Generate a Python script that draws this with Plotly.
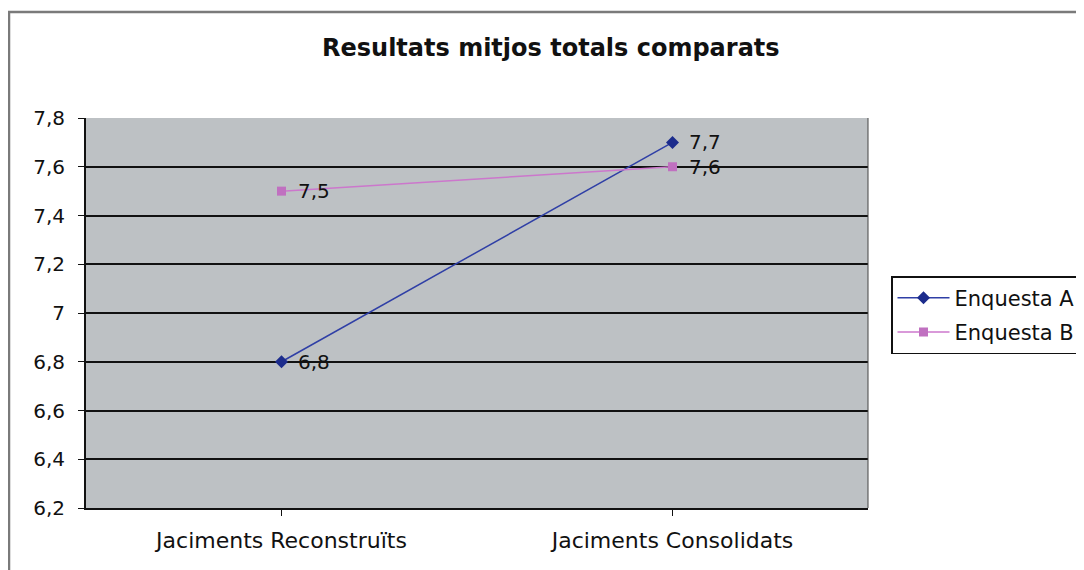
import plotly.graph_objects as go

categories = ["Jaciments Reconstruïts", "Jaciments Consolidats"]
enquesta_a = [6.8, 7.7]
enquesta_b = [7.5, 7.6]
series_names = ["Enquesta A", "Enquesta B"]
y_ticks = [6.2, 6.4, 6.6, 6.8, 7.0, 7.2, 7.4, 7.6, 7.8]
y_tick_labels = ["6,2", "6,4", "6,6", "6,8", "7", "7,2", "7,4", "7,6", "7,8"]
title_text = "Resultats mitjos totals comparats"


def fmt(v):
    return f"{v:.1f}".replace(".", ",")


OFF = 8  # page body margin
W, H = 1084 - OFF, 570 - OFF
pw, ph = 782, 390
L, T = 86 - OFF, 118 - OFF
R, B = W - L - pw, H - T - ph

FONT = "DejaVu Sans, Verdana, sans-serif"
x_idx = list(range(len(categories)))

fig = go.Figure()
fig.add_trace(go.Scatter(
    x=x_idx, y=enquesta_a, name=series_names[0], mode="lines+markers",
    legendgroup="a",
    line=dict(color="#2f3fa6", width=1.5),
    marker=dict(symbol="diamond", size=10, color="#1c2c8c"),
    cliponaxis=False,
))
fig.add_trace(go.Scatter(
    x=x_idx, y=enquesta_b, name=series_names[1], mode="lines+markers",
    legendgroup="b",
    line=dict(color="#cc77cc", width=1.5),
    marker=dict(symbol="square", size=9, color="#c070c0"),
    cliponaxis=False,
))


def px_x(x):
    return (x - OFF - L) / pw


def px_y(y):
    return (H - B - (y - OFF)) / ph


annotations = [
    dict(text="<b>" + title_text + "</b>", xref="paper", yref="paper",
         x=px_x(551), y=px_y(48), xanchor="center", yanchor="middle",
         showarrow=False, font=dict(family=FONT, size=24, color="#111111")),
]
for series in (enquesta_a, enquesta_b):
    for xi, v in zip(x_idx, series):
        annotations.append(dict(
            x=xi, y=v, xref="x", yref="y", text=fmt(v), showarrow=False,
            xanchor="left", yanchor="middle", xshift=14,
            font=dict(family=FONT, size=20, color="#111111"),
        ))

fig.update_layout(
    width=W, height=H,
    margin=dict(l=L, r=R, t=T, b=B, autoexpand=False),
    paper_bgcolor="white",
    plot_bgcolor="#bdc1c4",
    font=dict(family=FONT, size=20, color="#111111"),
    showlegend=True,
    legend=dict(
        x=px_x(891), y=px_y(276), xanchor="left", yanchor="top",
        bgcolor="white", bordercolor="#111111", borderwidth=1.5,
        font=dict(family=FONT, size=21, color="#111111"),
        tracegroupgap=4, itemwidth=52,
    ),
    xaxis=dict(
        range=[-0.5, 1.5], tickmode="array", tickvals=x_idx, ticktext=categories,
        showgrid=False, zeroline=False, showline=True, linecolor="#111111", linewidth=2,
        ticks="outside", ticklen=6, tickcolor="#111111", tickson="boundaries",
        tickfont=dict(family=FONT, size=22), ticklabelstandoff=6,
    ),
    yaxis=dict(
        range=[6.2, 7.8], tickmode="array", tickvals=y_ticks, ticktext=y_tick_labels,
        showgrid=True, gridcolor="#111111", gridwidth=1.5, zeroline=False,
        showline=True, linecolor="#111111", linewidth=2,
        ticks="outside", ticklen=6, tickcolor="#111111",
        tickfont=dict(family=FONT, size=20), ticklabelstandoff=9,
    ),
    shapes=[
        dict(type="rect", xref="paper", yref="paper",
             x0=px_x(9), x1=px_x(1100), y0=px_y(590), y1=px_y(12),
             line=dict(color="#7a7a7a", width=2.5), fillcolor="rgba(0,0,0,0)", layer="below"),
        dict(type="line", xref="paper", yref="paper",
             x0=1, x1=1, y0=0, y1=1, line=dict(color="#444444", width=1)),
    ],
    annotations=annotations,
)

fig.write_html("out.html")
